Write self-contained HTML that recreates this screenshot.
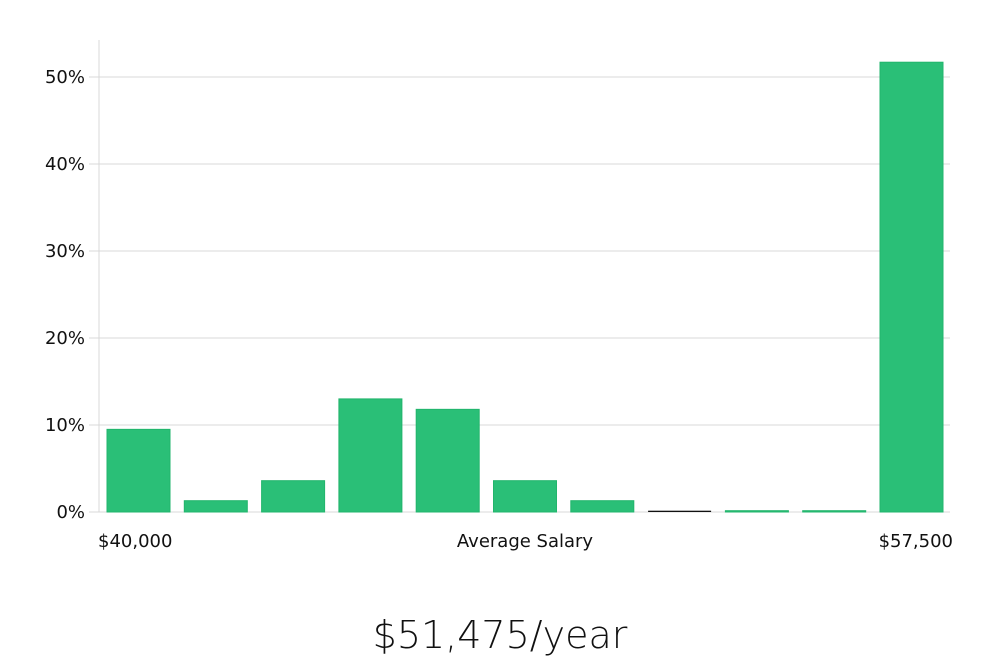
<!DOCTYPE html>
<html><head><meta charset="utf-8"><style>
body{margin:0;background:#fff;width:1000px;height:660px;overflow:hidden;font-family:"DejaVu Sans","Liberation Sans",sans-serif}
svg{display:block}
</style></head><body>
<svg width="1000" height="660" id="chart">
<text x="500" y="648" text-anchor="middle" font-size="38" fill="#111" font-weight="300">$51,475/year</text>
</svg>
<script>
const categories=["b1","b2","b3","b4","b5","b6","b7","b8","b9","b10","b11"];
const values=[9.5,1.3,3.6,13.0,11.8,3.6,1.3,0.15,0.15,0.15,51.7];
const yTicks=[0,10,20,30,40,50];
const xLabels=["$40,000","Average Salary","$57,500"];
const NS="http://www.w3.org/2000/svg";
const svg=document.getElementById('chart');
const x0=99,x1=950,y0=512,pxPer=8.7,step=77.3,barW=63,barOff=8;
const y=v=>y0-v*pxPer;
function mk(t,a,p){const e=document.createElementNS(NS,t);for(const k in a)e.setAttribute(k,a[k]);(p||svg).appendChild(e);return e;}
yTicks.forEach(t=>{
  const g=mk('line',{x1:89,x2:x1,y1:y(t),y2:y(t),stroke:'#d9d9d9','stroke-width':1});
  
  
  const l=mk('text',{x:85,y:y(t)+6,'text-anchor':'end','font-size':18,fill:'#111'});
  l.textContent=t+'%';
  
  
});
const ax=mk('line',{x1:x0,x2:x0,y1:40,y2:y0,stroke:'#d9d9d9','stroke-width':1});


values.forEach((v,i)=>{
  const bx=x0+barOff+i*step;
  const h=Math.max(v*pxPer,1.2);
  const r=mk('rect',{x:bx,y:y0-h,width:barW,height:h,fill:i===7?'#111':'#2abf77',stroke:i===7?'none':'#22b56c','stroke-width':1});
  
  
});
const xl=[[98,'start'],[525,'middle'],[953,'end']];
xLabels.forEach((s,i)=>{
  const t=mk('text',{x:xl[i][0],y:547,'text-anchor':xl[i][1],'font-size':18,fill:'#111'});
  t.textContent=s;
  
  
});
</script>
</body></html>
